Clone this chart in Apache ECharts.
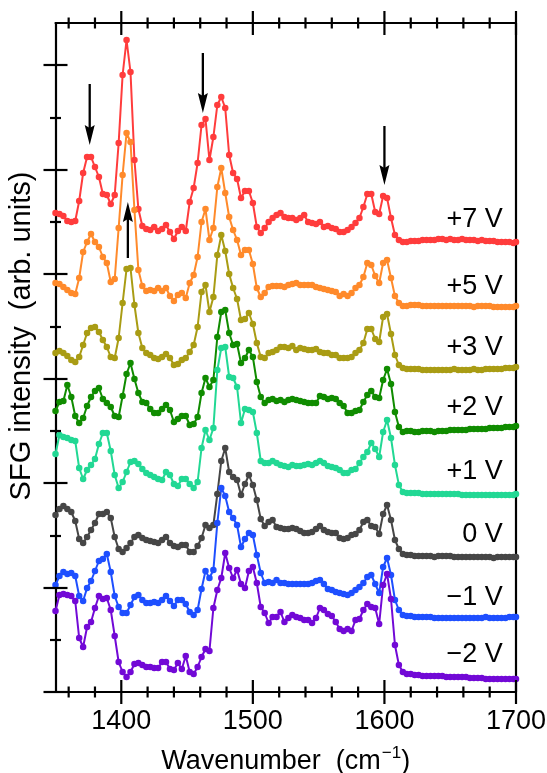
<!DOCTYPE html>
<html><head><meta charset="utf-8">
<script src="https://cdn.jsdelivr.net/npm/echarts@6/dist/echarts.min.js"></script>
<style>html,body{margin:0;padding:0;background:#fff}#c{width:547px;height:773px}</style>
</head><body><div id="c"></div>
<script>
// ---------- data ----------
const wavenumbers = [1350,1353,1356,1359,1362,1365,1368,1371,1374,1377,1380,1383,1386,1389,1392,1395,1398,1401,1404,1407,1410,1413,1416,1419,1422,1425,1428,1431,1434,1437,1440,1443,1446,1449,1452,1455,1458,1461,1464,1467,1470,1473,1476,1479,1482,1485,1488,1491,1494,1497,1500,1503,1506,1509,1512,1515,1518,1521,1524,1527,1530,1533,1536,1539,1542,1545,1548,1551,1554,1557,1560,1563,1566,1569,1572,1575,1578,1581,1584,1587,1590,1593,1596,1599,1602,1605,1608,1611,1614,1617,1620,1623,1626,1629,1632,1635,1638,1641,1644,1647,1650,1653,1656,1659,1662,1665,1668,1671,1674,1677,1680,1683,1686,1689,1692,1695,1698,1700];

const sfgP7V = [479,478,476,471,470,471,491,519,535,535, 525,515,498,497,488,497,549,617,652,620, 532,483,466,463,462,465,461,463,467,460, 453,461,465,461,490,504,529,567,573,532, 555,587,595,584,537,519,513,494,501,501, 489,465,459,464,470,474,477,479,475,474, 474,472,474,477,470,469,468,470,465,466, 464,463,460,460,462,465,469,474,485,498, 498,480,478,496,494,474,457,452,450,450, 451,451,451,452,452,452,452,453,453,452, 453,452,452,453,452,452,452,451,452,451, 451,451,450,450,450,450,449,450];
const sfgP5V = [409,408,405,402,399,398,414,440,450,458, 450,445,435,429,410,413,464,517,559,550, 482,422,406,401,402,401,404,401,404,396, 391,397,399,394,409,417,435,470,483,452, 464,505,524,499,475,462,452,437,442,442, 428,404,395,399,405,406,406,406,405,407, 408,409,407,407,407,407,405,404,403,402, 401,400,396,398,396,399,404,407,415,429, 427,416,409,429,432,414,396,389,386,386, 387,387,387,386,386,386,386,386,386,386, 386,386,386,386,386,386,385,386,386,386, 386,385,385,385,385,385,385,386];
const sfgP3V = [339,341,339,336,332,330,335,347,359,364, 365,360,352,345,335,334,354,389,423,424, 387,359,344,339,337,334,333,335,338,334, 327,328,332,334,340,347,365,400,407,380, 395,437,457,441,418,404,393,372,373,379, 368,349,335,334,339,340,342,345,345,344, 346,342,344,343,342,342,343,340,339,339, 337,337,334,334,334,335,339,342,349,363, 363,353,350,375,378,358,337,327,324,323, 323,323,323,322,322,322,322,322,322,322, 322,323,322,322,322,322,323,322,322,323, 323,323,323,323,324,324,324,325];
const sfgP2V = [281,290,291,307,295,276,269,274,286,295, 301,304,293,289,285,276,275,296,318,329, 313,299,290,289,283,279,279,283,287,282, 270,273,276,276,267,268,275,299,314,305, 312,355,380,382,359,347,348,329,334,342, 335,310,295,289,292,293,291,292,290,292, 293,292,291,290,289,289,289,296,295,293, 294,293,289,286,279,279,281,282,290,297, 301,295,294,312,323,308,280,265,260,261, 261,260,260,261,261,261,260,261,261,261, 262,262,262,262,262,263,263,263,263,263, 264,264,264,264,265,265,265,266];
const sfgP1V = [238,257,255,254,252,251,224,213,222,227, 233,248,259,259,241,217,204,210,220,230, 231,228,223,219,217,215,213,212,220,217, 208,206,213,213,208,204,210,244,262,252, 264,322,344,345,315,314,305,269,283,282, 280,259,231,229,229,231,229,227,226,225, 227,226,226,227,228,227,229,231,229,226, 225,224,222,219,219,222,223,229,235,240, 249,243,235,260,272,254,227,207,200,199, 199,199,199,198,198,198,198,198,198,198, 198,198,198,197,197,197,197,197,197,197, 197,197,197,197,197,197,197,198];
const sfg0V = [177,183,186,183,180,171,153,149,155,162, 169,178,178,180,174,155,143,140,144,149, 155,157,154,152,151,150,149,152,155,149, 146,145,147,147,140,140,146,154,167,164, 167,198,231,244,220,215,212,197,208,217, 207,192,173,166,170,172,165,164,163,163, 164,163,161,159,159,160,163,166,162,160, 159,159,154,153,154,157,158,162,170,172, 166,165,158,178,187,172,152,143,138,137, 137,136,136,136,136,136,135,136,136,136, 136,135,135,135,135,135,135,135,135,135, 135,134,135,135,135,135,135,135];
const sfgM1V = [107,116,120,118,119,116,96,91,104,111, 121,131,133,138,120,96,85,79,79,87, 95,97,92,89,89,90,89,92,96,91, 86,92,92,88,80,77,82,103,121,114, 122,169,204,196,180,174,167,145,153,159, 157,137,119,109,110,109,112,109,109,108, 108,108,108,108,108,109,111,112,108,103, 102,100,99,98,97,99,102,105,109,115, 117,108,99,125,134,117,92,82,77,76, 76,75,75,75,75,75,74,74,74,74, 74,74,74,74,74,74,74,74,74,75, 74,74,74,74,74,75,75,75];
const sfgM2V = [81,97,98,97,96,91,54,45,65,70, 84,96,93,94,82,56,30,20,15,20, 28,29,27,25,25,24,24,30,30,23, 22,29,23,36,20,18,25,35,43,41, 84,102,114,139,124,114,122,108,104,121, 125,109,85,79,69,75,75,80,70,74, 77,75,74,72,72,69,74,84,82,78, 76,70,63,61,63,61,72,73,82,88, 85,84,68,107,118,93,47,27,20,18, 18,17,17,16,16,16,16,16,16,15, 15,15,15,15,15,14,14,14,14,13, 13,13,13,13,13,13,13,13];

const seriesNames = ['+7 V','+5 V','+3 V','+2 V','+1 V','0 V','\u22121 V','\u22122 V'];
const seriesValues = [sfgP7V, sfgP5V, sfgP3V, sfgP2V, sfgP1V, sfg0V, sfgM1V, sfgM2V];
const seriesColors = ['#ff3c3c','#ff8a2b','#a99c14','#108c00','#22d894','#464646','#1e4fff','#7209d6'];

// label anchor (data coords) for each trace's voltage label
const labelX = 1690;
const labelY = [472, 405, 344, 284, 220, 157, 94, 37];

// arrows: wavenumber, tail value, tip value
const arrowX = [1376, 1462, 1600, 1405];
const arrowTail = [608, 639, 566, 434];
const arrowTip = [547, 579, 507, 490];

// axis ticks
const X_MIN = 1350, X_MAX = 1700;
const xMajorTicks = [1400, 1500, 1600, 1700];
const xMinorTicks = [1360,1380,1420,1440,1460,1480,1520,1540,1560,1580,1620,1640,1660,1680];
const Y_MIN = 0, Y_MAX = 669;
const yMajorTicks = [0, 104, 209, 313, 418, 522, 627];
const yMinorTicks = [52, 156, 261, 365, 470, 574];

// ---------- chart ----------
const FONT = '"Liberation Sans", Arial, Helvetica, sans-serif';
const AX_W = 2.2;
const MAJOR_LEN = 12, MINOR_LEN = 5.5;
const chart = echarts.init(document.getElementById('c'), null, {renderer: 'canvas', width: 547, height: 773});

// tick marks crossing the frame: [value, side(0 bottom,1 top,2 left), half length]
const tickItems = [];
xMajorTicks.forEach(v => { tickItems.push([v, 0, MAJOR_LEN]); tickItems.push([v, 1, MAJOR_LEN]); });
xMinorTicks.forEach(v => { tickItems.push([v, 0, MINOR_LEN]); tickItems.push([v, 1, MINOR_LEN]); });
yMajorTicks.forEach(v => tickItems.push([v, 2, MAJOR_LEN]));
yMinorTicks.forEach(v => tickItems.push([v, 2, MINOR_LEN]));

const tickSeries = {
  type: 'custom', xAxisIndex: 0, yAxisIndex: 0, z: 10, silent: true, clip: false,
  data: tickItems,
  renderItem: function (params, api) {
    const v = api.value(0), side = api.value(1), len = api.value(2);
    const lo = api.coord([X_MIN, Y_MIN]);
    const hi = api.coord([X_MAX, Y_MAX]);
    let shape;
    if (side === 0) {
      const px = api.coord([v, Y_MIN])[0];
      shape = {x1: px, y1: lo[1] - len, x2: px, y2: lo[1] + len};
    } else if (side === 1) {
      const px = api.coord([v, Y_MAX])[0];
      shape = {x1: px, y1: hi[1] - len, x2: px, y2: hi[1] + len};
    } else {
      const py = api.coord([X_MIN, v])[1];
      shape = {x1: lo[0] - len, y1: py, x2: lo[0] + len, y2: py};
    }
    return {type: 'line', shape: shape, style: {stroke: '#000', lineWidth: AX_W, lineCap: 'butt'}};
  }
};

const lineSeries = seriesValues.map((vals, k) => ({
  type: 'line', name: seriesNames[k], xAxisIndex: 0, yAxisIndex: 0,
  data: wavenumbers.map((w, i) => [w, vals[i]]),
  symbol: 'circle', symbolSize: 6.5, showSymbol: true, showAllSymbol: true,
  clip: false, animation: false,
  itemStyle: {color: seriesColors[k]},
  lineStyle: {color: seriesColors[k], width: 2},
  emphasis: {disabled: true}, z: 2
}));

const arrowSeries = {
  type: 'custom', xAxisIndex: 0, yAxisIndex: 0, z: 5, silent: true, clip: false,
  data: arrowX.map((x, i) => [x, arrowTail[i], arrowTip[i]]),
  renderItem: function (params, api) {
    const x = api.value(0);
    const p0 = api.coord([x, api.value(1)]);
    const p1 = api.coord([x, api.value(2)]);
    const dir = p1[1] > p0[1] ? 1 : -1;
    const headLen = 20, headW = 5, notch = 3;
    const base = p1[1] - dir * headLen;
    return {
      type: 'group',
      children: [
        {type: 'line', shape: {x1: p0[0], y1: p0[1], x2: p0[0], y2: base + dir * notch}, style: {stroke: '#000', lineWidth: 2.3}},
        {type: 'polygon', shape: {points: [[p1[0], p1[1]], [p1[0] - headW, base], [p1[0], base + dir * notch], [p1[0] + headW, base]]}, style: {fill: '#000'}}
      ]
    };
  }
};

const labelSeries = {
  type: 'custom', xAxisIndex: 0, yAxisIndex: 0, z: 6, silent: true, clip: false,
  data: labelY.map(y => [labelX, y]),
  renderItem: function (params, api) {
    const p = api.coord([api.value(0), api.value(1)]);
    return {
      type: 'text', x: p[0], y: p[1],
      style: {text: seriesNames[params.dataIndex], fontSize: 27, fontFamily: FONT, fill: '#000', align: 'right', verticalAlign: 'middle'}
    };
  }
};

const frameLine = {show: true, onZero: false, lineStyle: {color: '#000', width: AX_W}};

chart.setOption({
  animation: false,
  backgroundColor: '#fff',
  grid: {
    left: 55.5, right: 31, top: 23, bottom: 81,
    containLabel: false, outerBoundsMode: 'none', show: false
  },
  xAxis: [{
    type: 'value', position: 'bottom', min: X_MIN, max: X_MAX,
    splitLine: {show: false},
    axisLine: frameLine,
    axisTick: {show: false},
    axisLabel: {
      show: true, customValues: xMajorTicks, margin: 16, color: '#000', fontSize: 27, fontFamily: FONT,
      hideOverlap: false, formatter: function (v) { return String(v); }
    },
    name: '{n|Wavenumber  (cm}{s|\u22121}{n|)}',
    nameLocation: 'middle', nameGap: 53,
    nameTextStyle: {
      color: '#000', fontFamily: FONT, fontSize: 27,
      rich: {
        n: {fontSize: 27, fontFamily: FONT, color: '#000', lineHeight: 30, verticalAlign: 'bottom'},
        s: {fontSize: 17, fontFamily: FONT, color: '#000', lineHeight: 30, verticalAlign: 'top', padding: [0, 0, 12, 1]}
      }
    }
  }, {
    type: 'value', position: 'top', min: X_MIN, max: X_MAX,
    splitLine: {show: false}, axisLine: frameLine, axisTick: {show: false}, axisLabel: {show: false}
  }],
  yAxis: [{
    type: 'value', position: 'left', min: Y_MIN, max: Y_MAX,
    splitLine: {show: false}, axisLine: frameLine, axisTick: {show: false}, axisLabel: {show: false}
  }, {
    type: 'value', position: 'right', min: Y_MIN, max: Y_MAX,
    splitLine: {show: false}, axisLine: frameLine, axisTick: {show: false}, axisLabel: {show: false}
  }],
  graphic: [{
    type: 'text', x: 22, y: 336, rotation: Math.PI / 2,
    style: {text: 'SFG intensity  (arb. units)', fontSize: 29, fontFamily: FONT, fill: '#000', align: 'center', verticalAlign: 'middle'}
  }],
  series: lineSeries.concat([arrowSeries, labelSeries, tickSeries])
});
</script>
</body></html>
